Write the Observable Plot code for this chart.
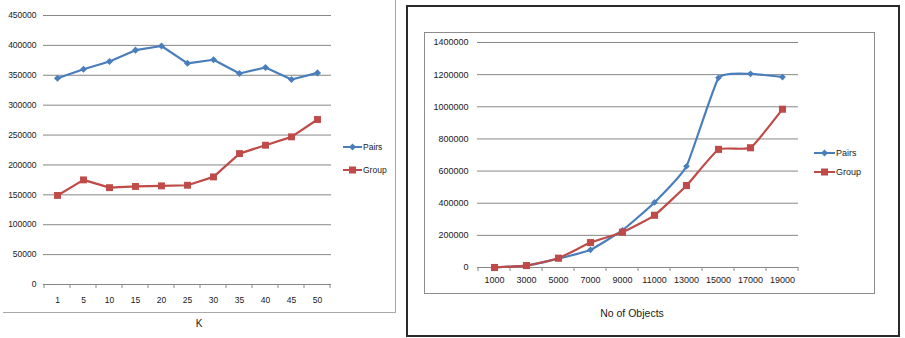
<!DOCTYPE html>
<html>
<head>
<meta charset="utf-8">
<script src="https://cdn.jsdelivr.net/npm/d3@7"></script>
<script src="https://cdn.jsdelivr.net/npm/@observablehq/plot@0.6"></script>
<style>
  html, body { margin: 0; padding: 0; background: #fff; }
  #page { position: relative; width: 905px; height: 338px; overflow: hidden;
          font-family: "Liberation Sans", Arial, sans-serif; color: #1a1a1a; }
  .abs { position: absolute; }
  .panel-left { left: 3px; top: -3px; width: 392px; height: 315px;
                border-right: 1.5px solid #a8a8a8; border-bottom: 1.5px solid #a8a8a8; }
  .panel-right { left: 406px; top: 5px; width: 490px; height: 328px; border: 2px solid #2a2a2a; }
  .plot-area { left: 424px; top: 32px; width: 449px; height: 260px; border: 1px solid #8c8c8c; }
  .chart-left text { font-family: "Liberation Sans", Arial, sans-serif; font-size: 8.5px; fill: #1a1a1a; }
  .chart-right text { font-family: "Liberation Sans", Arial, sans-serif; font-size: 9px; fill: #1a1a1a; }
  .legend { font-size: 9px; line-height: 12px; white-space: nowrap; }
  .legend .item { position: absolute; left: 0; display: flex; align-items: center; }
  .legend svg { display: block; margin-right: 1px; }
  .axis-title { font-size: 10px; transform: translate(-50%, -50%); white-space: nowrap; }
</style>
</head>
<body>
<div id="page"></div>
<script>
// Left chart: running time against K
const kValues = ["1", "5", "10", "15", "20", "25", "30", "35", "40", "45", "50"];
const kPairs  = [345000, 360000, 373000, 392000, 399000, 370000, 376000, 353000, 363000, 343000, 354000];
const kGroup  = [149000, 175000, 162000, 164000, 165000, 166000, 180000, 219000, 233000, 247000, 276000];
const kTicks  = [0, 50000, 100000, 150000, 200000, 250000, 300000, 350000, 400000, 450000];

// Right chart: running time against number of objects
const objCounts = ["1000", "3000", "5000", "7000", "9000", "11000", "13000", "15000", "17000", "19000"];
const objPairs  = [0, 12000, 55000, 110000, 232000, 405000, 630000, 1180000, 1205000, 1185000];
const objGroup  = [0, 12000, 58000, 155000, 220000, 325000, 510000, 735000, 745000, 985000];
const objTicks  = [0, 200000, 400000, 600000, 800000, 1000000, 1200000, 1400000];

const seriesNames = ["Pairs", "Group"];
const BLUE = "#4a7ebb";
const RED = "#be4b48";
const GRID = "#878787";

const rows = (cats, vals) => cats.map((c, i) => ({c, v: vals[i]}));

// Small tick marks hanging below the category axis, at the boundaries between categories
function boundaryTicks(len) {
  return function (...args) {
    const scales = args[1] && args[1].x ? args[1] : args[0];
    const dims = args.find(a => a && a.marginBottom !== undefined && a.height !== undefined);
    const x = scales.x, dom = x.domain();
    const step = x(dom[1]) - x(dom[0]);
    const y0 = dims.height - dims.marginBottom;
    const edges = dom.map(d => x(d) - step / 2).concat([x(dom[dom.length - 1]) + step / 2]);
    const g = d3.create("svg:g");
    g.selectAll("line").data(edges).join("line")
      .attr("x1", d => d).attr("x2", d => d)
      .attr("y1", y0).attr("y2", y0 + len)
      .attr("stroke", GRID).attr("stroke-width", 1);
    return g.node();
  };
}

function seriesMarks(cats, pairs, group, sizes, curve) {
  return [
    Plot.line(rows(cats, pairs), {x: "c", y: "v", stroke: BLUE, strokeWidth: 2.2, ...curve}),
    Plot.dot(rows(cats, pairs), {x: "c", y: "v", symbol: "diamond2", r: sizes.diamond, fill: BLUE, stroke: "none"}),
    Plot.line(rows(cats, group), {x: "c", y: "v", stroke: RED, strokeWidth: 2.2, ...curve}),
    Plot.dot(rows(cats, group), {x: "c", y: "v", symbol: "square", r: sizes.square, fill: RED, stroke: "none"})
  ];
}

const page = document.getElementById("page");

function addDiv(cls, html, style) {
  const d = document.createElement("div");
  d.className = "abs " + cls;
  if (html) d.innerHTML = html;
  if (style) Object.assign(d.style, style);
  page.appendChild(d);
  return d;
}

// Panel frames
addDiv("panel-left");
addDiv("panel-right");
addDiv("plot-area");

// Left chart (straight segments)
const leftPlot = Plot.plot({
  width: 397, height: 338,
  marginLeft: 43, marginRight: 66, marginTop: 15, marginBottom: 54,
  style: {background: "transparent", color: "#1a1a1a", overflow: "visible"},
  x: {type: "point", domain: kValues, padding: 0.5, tickSize: 0, tickPadding: 12, label: null},
  y: {domain: [0, 450000], ticks: kTicks, tickFormat: d => String(d), tickSize: 0, tickPadding: 7, label: null},
  marks: [
    Plot.ruleY(kTicks, {stroke: GRID, strokeWidth: 1}),
    boundaryTicks(4),
    ...seriesMarks(kValues, kPairs, kGroup, {diamond: 3.2, square: 3.9}, {curve: "linear"})
  ]
});
leftPlot.classList.add("chart-left");
Object.assign(leftPlot.style, {position: "absolute", left: "0px", top: "0px"});
page.appendChild(leftPlot);

// Right chart (gently smoothed lines)
const rightPlot = Plot.plot({
  width: 499, height: 338,
  marginLeft: 71, marginRight: 107, marginTop: 42, marginBottom: 71,
  style: {background: "transparent", color: "#1a1a1a", overflow: "visible"},
  x: {type: "point", domain: objCounts, padding: 0.5, tickSize: 0, tickPadding: 9, label: null},
  y: {domain: [0, 1400000], ticks: objTicks, tickFormat: d => String(d), tickSize: 0, tickPadding: 9, label: null},
  marks: [
    Plot.ruleY(objTicks, {stroke: GRID, strokeWidth: 1}),
    boundaryTicks(4),
    ...seriesMarks(objCounts, objPairs, objGroup, {diamond: 3.0, square: 4.0}, {curve: "cardinal", tension: 0.6})
  ]
});
rightPlot.classList.add("chart-right");
Object.assign(rightPlot.style, {position: "absolute", left: "406px", top: "0px"});
page.appendChild(rightPlot);

// Legends
function legend(left, top, gap, lineLen, fontSize) {
  const box = addDiv("legend", "", {left: left + "px", top: top + "px", fontSize: fontSize + "px"});
  const colors = [BLUE, RED];
  seriesNames.forEach((name, i) => {
    const item = document.createElement("div");
    item.className = "item";
    item.style.top = (i * gap) + "px";
    const m = lineLen / 2;
    const marker = i === 0
      ? `<path d="M${m},1.5 L${m + 3.5},5 L${m},8.5 L${m - 3.5},5 Z" fill="${colors[i]}"/>`
      : `<rect x="${m - 3.5}" y="1.5" width="7" height="7" fill="${colors[i]}"/>`;
    item.innerHTML = `<svg width="${lineLen}" height="10"><line x1="0" x2="${lineLen}" y1="5" y2="5" stroke="${colors[i]}" stroke-width="2"/>${marker}</svg><span>${name}</span>`;
    box.appendChild(item);
  });
}
legend(343, 141, 23, 19, 8.5);
legend(814, 147, 19, 21, 9);

// Axis titles
addDiv("axis-title", "K", {left: "199px", top: "323px"});
addDiv("axis-title", "No of Objects", {left: "632px", top: "313px", fontSize: "10.5px"});
</script>
</body>
</html>
